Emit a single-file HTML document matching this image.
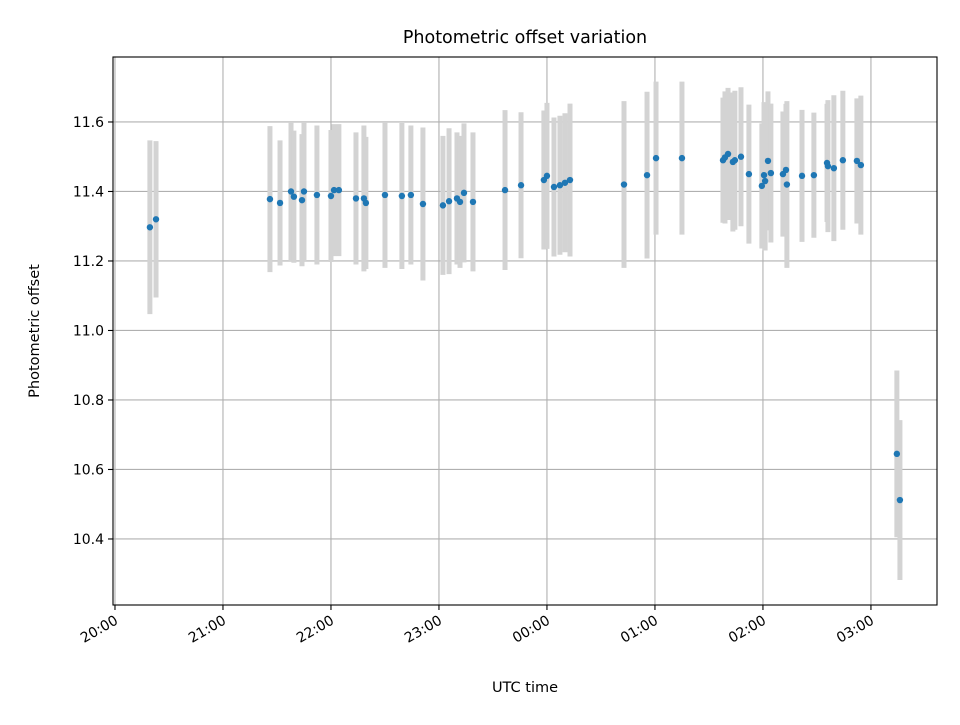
<!DOCTYPE html>
<html><head><meta charset="utf-8"><style>
html,body{margin:0;padding:0;background:#fff;}
svg text{font-family:"DejaVu Sans","Liberation Sans",sans-serif;fill:#000;}
</style></head><body>
<svg id="chart" width="960" height="720" viewBox="0 0 960 720" xmlns="http://www.w3.org/2000/svg">
<rect width="960" height="720" fill="#fff"/>
<g id="grid"></g>
<g id="errs"></g>
<g id="pts"></g>
<g id="axes"></g>
<text x="525" y="43" font-size="17.5" text-anchor="middle">Photometric offset variation</text>
<text x="525" y="692" font-size="14.5" text-anchor="middle">UTC time</text>
<text transform="translate(39,331) rotate(-90)" font-size="14.5" text-anchor="middle">Photometric offset</text>
</svg>
<script>
// minutes after 20:00 UTC
const times = [19.4,22.8,86.1,91.7,97.8,99.4,103.9,105,112.2,120,121.7,124.4,133.9,138.3,139.4,150,159.4,164.4,171.1,182.2,185.6,190,191.7,193.9,198.9,216.7,225.6,238.3,240,243.9,247.2,250,252.8,282.8,295.6,300.6,315,337.8,338.9,340.6,343.3,344.4,347.8,352.2,359.4,360.6,361.2,362.8,364.4,371.1,372.8,373.3,381.7,388.3,395.6,396.1,399.4,404.4,412.2,414.4,434.4,436.1];
const offsets = [11.297,11.32,11.378,11.367,11.40,11.385,11.375,11.40,11.39,11.387,11.404,11.404,11.38,11.38,11.367,11.39,11.387,11.39,11.364,11.36,11.372,11.38,11.37,11.396,11.37,11.404,11.418,11.433,11.445,11.413,11.418,11.425,11.433,11.42,11.447,11.496,11.496,11.49,11.498,11.508,11.485,11.49,11.50,11.45,11.416,11.447,11.43,11.488,11.453,11.45,11.462,11.42,11.445,11.447,11.482,11.473,11.467,11.49,11.488,11.476,10.645,10.512];
const errors = [0.25,0.225,0.21,0.18,0.2,0.19,0.19,0.2,0.2,0.19,0.19,0.19,0.19,0.21,0.19,0.21,0.21,0.2,0.22,0.2,0.21,0.19,0.19,0.2,0.2,0.23,0.21,0.2,0.21,0.2,0.2,0.2,0.22,0.24,0.24,0.22,0.22,0.18,0.19,0.19,0.2,0.2,0.2,0.2,0.18,0.21,0.2,0.2,0.2,0.18,0.19,0.24,0.19,0.18,0.17,0.19,0.21,0.2,0.18,0.2,0.24,0.23];
const yTicks = [10.4,10.6,10.8,11.0,11.2,11.4,11.6];
const xTickMinutes = [0,60,120,180,240,300,360,420];
const xTickLabels = ["20:00","21:00","22:00","23:00","00:00","01:00","02:00","03:00"];

const L=113,R=937,T=57,B=605;
const xMin=-1.1,xMax=456.7,yMin=10.21,yMax=11.787;
const sx=m=>L+(m-xMin)/(xMax-xMin)*(R-L);
const sy=v=>B-(v-yMin)/(yMax-yMin)*(B-T);
const NS="http://www.w3.org/2000/svg";
function mk(tag,attrs,parent){const e=document.createElementNS(NS,tag);for(const k in attrs)e.setAttribute(k,attrs[k]);parent.appendChild(e);return e;}
const grid=document.getElementById('grid'),axes=document.getElementById('axes'),errs=document.getElementById('errs'),pts=document.getElementById('pts');

yTicks.forEach(v=>{
  const y=sy(v);
  const g=mk('line',{x1:L,x2:R,y1:y,y2:y,stroke:'#b0b0b0','stroke-width':1.1},grid);
  
  
  const t=mk('line',{x1:L-5,x2:L,y1:y,y2:y,stroke:'#000','stroke-width':1.1},axes);
  
  
  const tx=mk('text',{x:L-9,y:y+5,'font-size':14,'text-anchor':'end'},axes);
  tx.textContent=v.toFixed(1);
  
  
});
xTickMinutes.forEach((m,i)=>{
  const x=sx(m);
  const g=mk('line',{x1:x,x2:x,y1:T,y2:B,stroke:'#b0b0b0','stroke-width':1.1},grid);
  
  
  const t=mk('line',{x1:x,x2:x,y1:B,y2:B+5,stroke:'#000','stroke-width':1.1},axes);
  
  
  const tx=mk('text',{transform:`translate(${x+4},${B+18}) rotate(-30)`,'font-size':14,'text-anchor':'end'},axes);
  tx.textContent=xTickLabels[i];
  
  
});
times.forEach((m,i)=>{
  const x=sx(m);
  const e=mk('line',{x1:x,x2:x,y1:sy(offsets[i]+errors[i]),y2:sy(offsets[i]-errors[i]),stroke:'#d3d3d3','stroke-width':5},errs);
  
  
});
times.forEach((m,i)=>{
  const c=mk('circle',{cx:sx(m),cy:sy(offsets[i]),r:3.2,fill:'#1f77b4'},pts);
  
  
});
const fr=mk('rect',{x:L,y:T,width:R-L,height:B-T,fill:'none',stroke:'#000','stroke-width':1.1},axes);


</script>
</body></html>
